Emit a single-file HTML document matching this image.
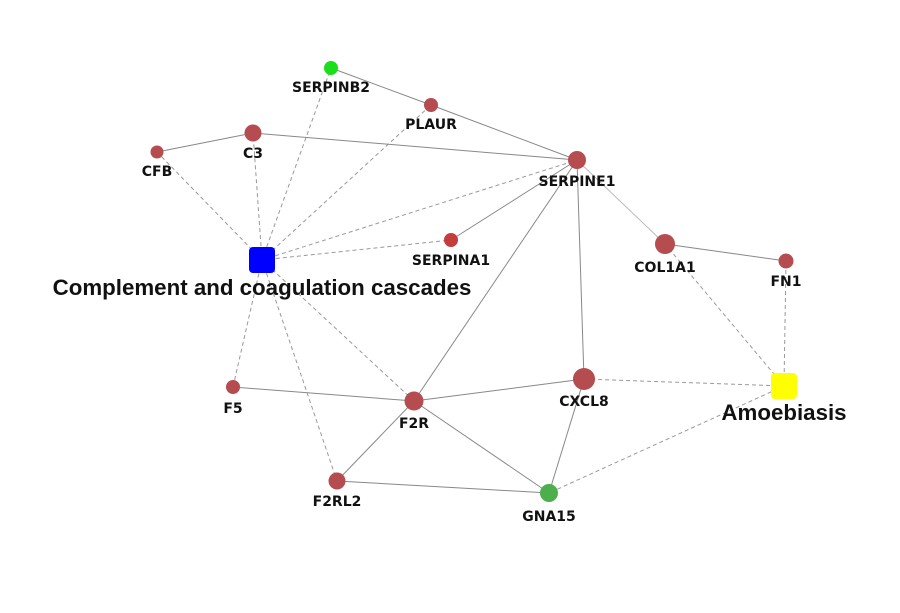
<!DOCTYPE html>
<html><head><meta charset="utf-8"><style>
html,body{margin:0;padding:0;background:#fff;}
svg{display:block;}
text{font-family:"DejaVu Sans","Liberation Sans",sans-serif;font-weight:bold;fill:#111;text-anchor:middle;}
.s{font-size:14px;}
.b{font-family:"Liberation Sans",sans-serif;font-size:22.3px;}
.e{stroke:#888;stroke-width:1;fill:none;}
.d{stroke:#999;stroke-width:1;stroke-dasharray:4,3;fill:none;}
.r{fill:#b54c4f;}
</style></head><body>
<svg width="900" height="613" viewBox="0 0 900 613">
<g class="d">
<line x1="262" y1="260" x2="331" y2="68"/>
<line x1="262" y1="260" x2="431" y2="105"/>
<line x1="262" y1="260" x2="253" y2="133"/>
<line x1="262" y1="260" x2="157" y2="152"/>
<line x1="262" y1="260" x2="577" y2="160"/>
<line x1="262" y1="260" x2="451" y2="240"/>
<line x1="262" y1="260" x2="233" y2="387"/>
<line x1="262" y1="260" x2="414" y2="401"/>
<line x1="262" y1="260" x2="337" y2="481"/>
<line x1="784" y1="386" x2="665" y2="244"/>
<line x1="784" y1="386" x2="786" y2="261"/>
<line x1="784" y1="386" x2="584" y2="379"/>
<line x1="784" y1="386" x2="549" y2="493"/>
</g>
<g class="e">
<line x1="331" y1="68" x2="431" y2="105"/>
<line x1="431" y1="105" x2="577" y2="160"/>
<line x1="253" y1="133" x2="157" y2="152"/>
<line x1="253" y1="133" x2="577" y2="160"/>
<line x1="577" y1="160" x2="451" y2="240"/>
<line x1="577" y1="160" x2="414" y2="401"/>
<line x1="577" y1="160" x2="584" y2="379"/>
<line x1="577" y1="160" x2="665" y2="244" style="stroke:#bbb"/>
<line x1="665" y1="244" x2="786" y2="261"/>
<line x1="233" y1="387" x2="414" y2="401"/>
<line x1="414" y1="401" x2="584" y2="379"/>
<line x1="414" y1="401" x2="337" y2="481"/>
<line x1="414" y1="401" x2="549" y2="493"/>
<line x1="584" y1="379" x2="549" y2="493"/>
<line x1="337" y1="481" x2="549" y2="493"/>
</g>
<circle cx="331" cy="68" r="7" fill="#1adf1a"/>
<circle class="r" cx="431" cy="105" r="7"/>
<circle class="r" cx="253" cy="133" r="8.5"/>
<circle class="r" cx="157" cy="152" r="6.5"/>
<circle class="r" cx="577" cy="160" r="9"/>
<circle class="r" cx="451" cy="240" r="7" style="fill:#c53c3c"/>
<circle class="r" cx="665" cy="244" r="10"/>
<circle class="r" cx="786" cy="261" r="7.5"/>
<circle class="r" cx="233" cy="387" r="7"/>
<circle class="r" cx="414" cy="401" r="9.5"/>
<circle class="r" cx="584" cy="379" r="11"/>
<circle class="r" cx="337" cy="481" r="8.5"/>
<circle cx="549" cy="493" r="9" fill="#4caf4c"/>
<rect x="249" y="247" width="26" height="26" rx="4" fill="#0000ff"/>
<rect x="771" y="373" width="26" height="26" rx="4" fill="#ffff00"/>
<text class="s" x="331" y="92">SERPINB2</text>
<text class="s" x="431" y="129">PLAUR</text>
<text class="s" x="253" y="158">C3</text>
<text class="s" x="157" y="176">CFB</text>
<text class="s" x="577" y="186">SERPINE1</text>
<text class="s" x="451" y="265">SERPINA1</text>
<text class="s" x="665" y="272">COL1A1</text>
<text class="s" x="786" y="286">FN1</text>
<text class="s" x="233" y="413">F5</text>
<text class="s" x="414" y="428">F2R</text>
<text class="s" x="584" y="406">CXCL8</text>
<text class="s" x="337" y="506">F2RL2</text>
<text class="s" x="549" y="521">GNA15</text>
<text class="b" x="262" y="295">Complement and coagulation cascades</text>
<text class="b" x="784" y="420">Amoebiasis</text>
</svg>
</body></html>
